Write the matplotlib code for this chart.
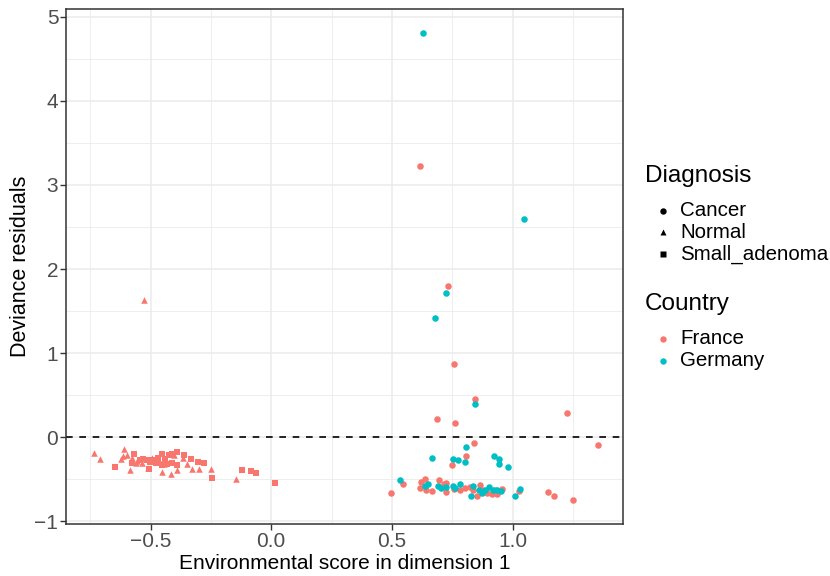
import matplotlib
matplotlib.use("Agg")
import numpy as np
from matplotlib import pyplot as plt
from matplotlib.lines import Line2D

plt.rcParams["font.family"] = ["Liberation Sans", "DejaVu Sans"]

FRANCE = "#F8766D"
GERMANY = "#00BFC4"

# Normal samples (all France)
normal_x = [-0.734, -0.710, -0.610, -0.622, -0.585, -0.614, -0.597, -0.577, -0.560, -0.555,
            -0.494, -0.465, -0.444, -0.402, -0.365, -0.348, -0.328, -0.299, -0.249, -0.452,
            -0.415, -0.390, -0.145, -0.527, -0.535, -0.510]
normal_y = [-0.19, -0.26, -0.14, -0.26, -0.39, -0.22, -0.21, -0.25, -0.31, -0.28,
            -0.24, -0.27, -0.32, -0.21, -0.24, -0.32, -0.38, -0.38, -0.38, -0.41,
            -0.44, -0.39, -0.50, 1.63, -0.30, -0.36]

# Small adenoma samples (all France)
adenoma_x = [-0.647, -0.568, -0.577, -0.544, -0.531, -0.515, -0.502, -0.490, -0.505, -0.452,
             -0.423, -0.410, -0.390, -0.361, -0.332, -0.303, -0.278, -0.477, -0.452, -0.432,
             -0.410, -0.390, -0.245, -0.120, -0.083, -0.062, 0.017, -0.470, -0.440]
adenoma_y = [-0.35, -0.20, -0.31, -0.27, -0.26, -0.27, -0.29, -0.27, -0.38, -0.20,
             -0.21, -0.20, -0.18, -0.21, -0.26, -0.29, -0.31, -0.30, -0.33, -0.32,
             -0.30, -0.33, -0.48, -0.39, -0.40, -0.42, -0.54, -0.24, -0.26]

# Cancer samples, France
cancer_fr_x = [0.498, 0.544, 0.838, 0.805, 0.747, 1.353, 1.145, 1.170, 1.249, 1.025,
               0.851, 0.734, 0.759, 0.842, 0.685, 0.763, 1.224, 0.618,
               0.622, 0.639, 0.618, 0.643, 0.668, 0.697, 0.714, 0.726, 0.722, 0.759,
               0.780, 0.801, 0.822, 0.834, 0.863, 0.871, 0.892, 0.913, 0.925, 0.934, 0.954]
cancer_fr_y = [-0.66, -0.55, -0.07, -0.22, -0.33, -0.09, -0.65, -0.70, -0.74, -0.64,
               -0.70, 1.80, 0.87, 0.46, 0.22, 0.17, 0.29, 3.23,
               -0.53, -0.50, -0.60, -0.63, -0.64, -0.51, -0.55, -0.54, -0.65, -0.61,
               -0.63, -0.60, -0.59, -0.63, -0.57, -0.63, -0.66, -0.67, -0.63, -0.67, -0.61]

# Cancer samples, Germany
cancer_de_x = [0.535, 0.664, 0.805, 0.751, 0.772, 0.801, 0.921, 0.942, 0.942, 0.979,
               1.008, 1.029, 0.826, 0.726, 0.680, 0.846, 0.627, 1.046,
               0.635, 0.651, 0.689, 0.705, 0.726, 0.751, 0.763, 0.784, 0.834, 0.859,
               0.871, 0.884, 0.900, 0.917, 0.934, 0.950]
cancer_de_y = [-0.51, -0.24, -0.12, -0.26, -0.27, -0.29, -0.22, -0.26, -0.32, -0.35,
               -0.70, -0.61, -0.70, 1.72, 1.42, 0.40, 4.81, 2.60,
               -0.58, -0.55, -0.58, -0.60, -0.59, -0.58, -0.60, -0.55, -0.58, -0.63,
               -0.66, -0.63, -0.59, -0.63, -0.63, -0.64]

x_ticks = [-0.5, 0.0, 0.5, 1.0]
x_tick_labels = ["\u22120.5", "0.0", "0.5", "1.0"]
y_ticks = [-1, 0, 1, 2, 3, 4, 5]
y_tick_labels = ["\u22121", "0", "1", "2", "3", "4", "5"]

diagnosis_labels = ["Cancer", "Normal", "Small_adenoma"]
diagnosis_markers = ["o", "^", "s"]
country_labels = ["France", "Germany"]
country_colors = [FRANCE, GERMANY]

W, H = 830, 576
fig = plt.figure(figsize=(W / 100, H / 100), dpi=100)
# panel spans x 66..622.5 px, y 9..524 px from the top
ax = fig.add_axes([66 / W, (H - 524) / H, 556.5 / W, 515 / H])

ax.set_xlim(-0.85, 1.455)
ax.set_ylim(-1.03, 5.09)

# grey92 grid, major and minor
for v in np.arange(-0.75, 1.5, 0.25):
    ax.axvline(v, color="#EBEBEB", lw=0.6 if v % 0.5 else 1.1, zorder=0)
for v in np.arange(-1.0, 5.5, 0.5):
    ax.axhline(v, color="#EBEBEB", lw=0.6 if v % 1 else 1.1, zorder=0)

ax.axhline(0, color="black", lw=1.2, ls=(0, (4, 4)), zorder=1)

ax.scatter(normal_x, normal_y, marker="^", s=22, color=FRANCE, lw=0, zorder=3)
ax.scatter(adenoma_x, adenoma_y, marker="s", s=20, color=FRANCE, lw=0, zorder=3)
ax.scatter(cancer_fr_x, cancer_fr_y, marker="o", s=22, color=FRANCE, lw=0, zorder=3)
ax.scatter(cancer_de_x, cancer_de_y, marker="o", s=22, color=GERMANY, lw=0, zorder=3)

ax.set_xticks(x_ticks, x_tick_labels)
ax.set_yticks(y_ticks, y_tick_labels)
ax.tick_params(labelsize=15, labelcolor="#4D4D4D", color="#333333",
               length=4, width=1, pad=1.5)
ax.set_xlabel("Environmental score in dimension 1", fontsize=15)
ax.set_ylabel("Deviance residuals", fontsize=15.5)
ax.xaxis.set_label_coords(0.5, -0.0575)
ax.yaxis.set_label_coords(-0.062, 0.5)
for sp in ax.spines.values():
    sp.set_color("#333333")
    sp.set_linewidth(1.1)


def legend_block(title, labels, top, markers, colors):
    """Draw a legend title and its rows at pixel rows measured from the top."""
    fig.text(645 / W, 1 - top / H, title, fontsize=17.5, va="center", ha="left")
    for i, lab in enumerate(labels):
        y = 1 - (top + 35 + 21.5 * i) / H
        fig.add_artist(Line2D([663 / W], [y], transform=fig.transFigure, ls="",
                              marker=markers[i], ms=4.6, color=colors[i], mec="none"))
        fig.text(680 / W, y, lab, fontsize=14.8, va="center", ha="left")


legend_block("Diagnosis", diagnosis_labels, 176, diagnosis_markers, ["black"] * 3)
legend_block("Country", country_labels, 304, ["o", "o"], country_colors)

fig.savefig("out.png", dpi=100)
